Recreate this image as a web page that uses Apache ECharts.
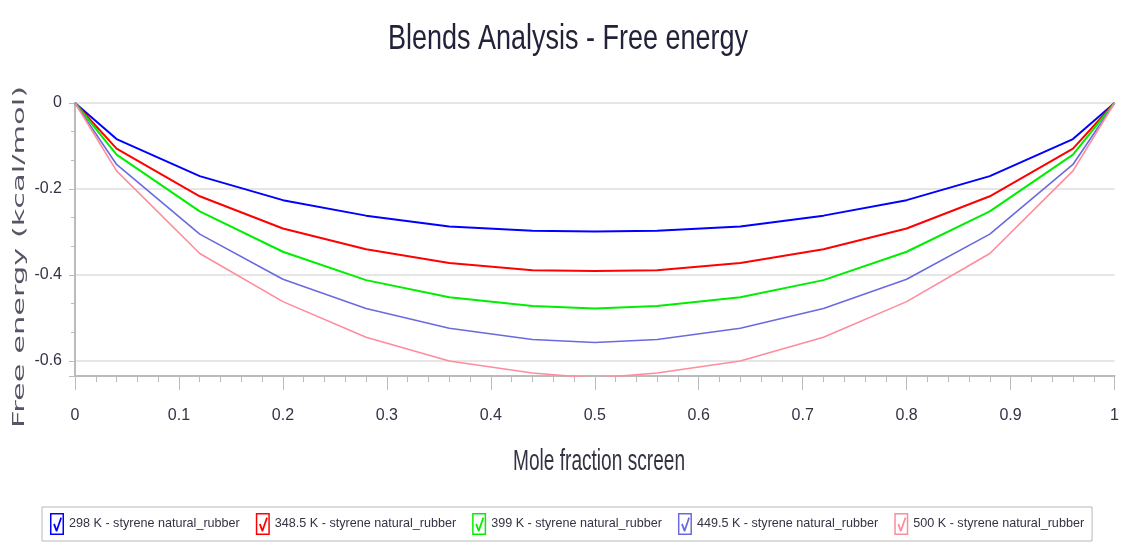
<!DOCTYPE html>
<html>
<head>
<meta charset="utf-8">
<script src="https://cdn.jsdelivr.net/npm/echarts@6/dist/echarts.min.js"></script>
<style>html,body{margin:0;padding:0;background:#fff;}#c{width:1122px;height:546px;}</style>
</head>
<body>
<div id="c"></div>
<script>
var moleFraction = [0, 0.04, 0.12, 0.2, 0.28, 0.36, 0.44, 0.5, 0.56, 0.64, 0.72, 0.8, 0.88, 0.96, 1];
var seriesNames = [
  '298 K - styrene natural_rubber',
  '348.5 K - styrene natural_rubber',
  '399 K - styrene natural_rubber',
  '449.5 K - styrene natural_rubber',
  '500 K - styrene natural_rubber'
];
var g298   = [0, -0.084, -0.170, -0.226, -0.262, -0.287, -0.297, -0.299, -0.297, -0.287, -0.262, -0.226, -0.170, -0.084, 0];
var g348_5 = [0, -0.106, -0.217, -0.292, -0.340, -0.372, -0.389, -0.391, -0.389, -0.372, -0.340, -0.292, -0.217, -0.106, 0];
var g399   = [0, -0.120, -0.252, -0.346, -0.412, -0.452, -0.472, -0.478, -0.472, -0.452, -0.412, -0.346, -0.252, -0.120, 0];
var g449_5 = [0, -0.143, -0.305, -0.410, -0.478, -0.524, -0.550, -0.557, -0.550, -0.524, -0.478, -0.410, -0.305, -0.143, 0];
var g500   = [0, -0.158, -0.350, -0.462, -0.545, -0.600, -0.628, -0.640, -0.628, -0.600, -0.545, -0.462, -0.350, -0.158, 0];
var seriesValues = [g298, g348_5, g399, g449_5, g500];
var titleText = 'Blends Analysis - Free energy';
var xName = 'Mole fraction screen';
var yName = 'Free energy (kcal/mol)';

var colors = ['#0000ff', '#ff0000', '#00ee00', '#6a6ae0', '#ff8c9c'];
var widths = [2, 2, 2, 1.6, 1.6];
var sans = "'Liberation Sans', Arial, sans-serif";
var wide = "'DejaVu Sans', Verdana, sans-serif";

function textWidth(txt, font) {
  var ctx = document.createElement('canvas').getContext('2d');
  ctx.font = font;
  return ctx.measureText(txt).width;
}
var titleSize = 35, xNameSize = 30, yNameSize = 16;
var titleScale = 360 / textWidth(titleText, titleSize + 'px ' + sans);
var xNameScale = 172 / textWidth(xName, xNameSize + 'px ' + sans);
var yNameScale = 342 / textWidth(yName, yNameSize + 'px ' + wide);

var checkIcon = 'path://M0 0H14V22H0Z M1.5 1.5V20.5H12.5V1.5Z M3.2 11.5L4.8 10.6L6.6 15.2L10.4 4.2L12 5L7.3 18.6H5.9Z';

var chart = echarts.init(document.getElementById('c'), null, {renderer: 'canvas'});
var series = seriesNames.map(function (n, i) {
  return {
    name: n,
    type: 'line',
    showSymbol: false,
    symbol: 'none',
    clip: true,
    color: colors[i],
    lineStyle: {width: widths[i], color: colors[i]},
    data: moleFraction.map(function (x, j) { return [x, seriesValues[i][j]]; })
  };
});
chart.setOption({
  animation: false,
  backgroundColor: '#fff',
  graphic: [
    {type: 'text', x: 568, y: 39, scaleX: titleScale, scaleY: 1,
     style: {text: titleText, font: titleSize + 'px ' + sans, fill: '#22223a', textAlign: 'center', textVerticalAlign: 'middle'}},
    {type: 'text', x: 599, y: 462, scaleX: xNameScale, scaleY: 1,
     style: {text: xName, font: xNameSize + 'px ' + sans, fill: '#333344', textAlign: 'center', textVerticalAlign: 'middle'}},
    {type: 'text', x: 20, y: 257, rotation: Math.PI / 2, scaleX: yNameScale, scaleY: 1,
     style: {text: yName, font: yNameSize + 'px ' + wide, fill: '#555566', textAlign: 'center', textVerticalAlign: 'middle'}}
  ],
  grid: {left: 75, right: 5, top: 103, bottom: 170, containLabel: false},
  xAxis: {
    type: 'value', min: 0, max: 1, interval: 0.1,
    axisLine: {onZero: false, lineStyle: {color: '#bbbbbb', width: 2}},
    axisTick: {show: true, length: 14, lineStyle: {color: '#bbbbbb'}},
    minorTick: {show: true, splitNumber: 5, length: 6, lineStyle: {color: '#bbbbbb'}},
    splitLine: {show: false},
    axisLabel: {fontFamily: sans, fontSize: 16, color: '#333344', margin: 32}
  },
  yAxis: {
    type: 'value', min: -0.635, max: 0, minInterval: 0.2, maxInterval: 0.2,
    axisLine: {show: true, onZero: false, lineStyle: {color: '#bbbbbb', width: 2}},
    axisTick: {show: true, length: 6, lineStyle: {color: '#bbbbbb'}},
    minorTick: {show: true, splitNumber: 3, length: 4, lineStyle: {color: '#bbbbbb'}},
    splitLine: {show: true, lineStyle: {color: '#e6e6e6', width: 2}},
    axisLabel: {fontFamily: sans, fontSize: 16, color: '#333344', margin: 13, showMinLabel: false}
  },
  legend: {
    left: 42, bottom: 5,
    icon: checkIcon,
    itemWidth: 14, itemHeight: 22, itemGap: 16,
    padding: [6, 8, 6, 8],
    borderColor: '#b8b8b8', borderWidth: 1,
    textStyle: {fontFamily: sans, fontSize: 12.6, color: '#333344'},
    data: seriesNames
  },
  series: series
});
</script>
</body>
</html>
